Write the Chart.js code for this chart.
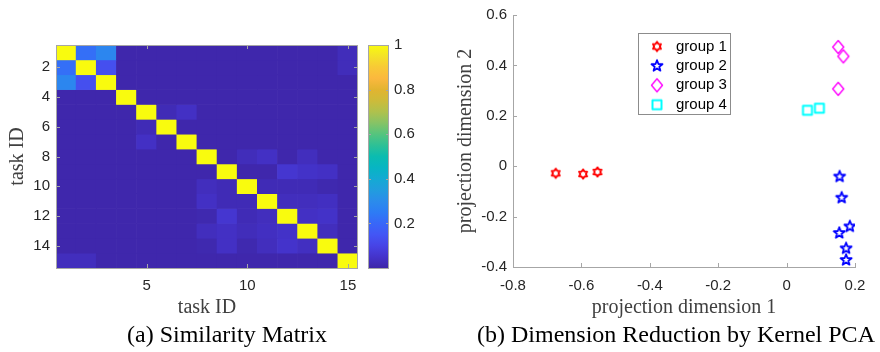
<!DOCTYPE html>
<html>
<head>
<meta charset="utf-8">
<title>Similarity matrix and kernel PCA</title>
<script src="https://cdn.jsdelivr.net/npm/chart.js@4.4.1/dist/chart.umd.min.js"></script>
<style>
  html, body { margin: 0; padding: 0; background: #fff; }
  #wrap { position: relative; width: 880px; height: 352px; overflow: hidden; }
  canvas { position: absolute; top: 0; }
  #heat { left: 0; }
  #pca { left: 440px; }
  .caption {
    position: absolute; top: 318px; width: 440px; text-align: center;
    font-family: "Liberation Serif", serif; font-size: 24px; line-height: 32px;
    color: #000; white-space: nowrap;
  }
</style>
</head>
<body>
<div id="wrap">
  <canvas id="heat" width="440" height="320"></canvas>
  <canvas id="pca" width="440" height="320"></canvas>
  <div class="caption" style="left:7px">(a) Similarity Matrix</div>
  <div class="caption" style="left:456px">(b) Dimension Reduction by Kernel PCA</div>
</div>
<script>
// données du panneau (a) : matrice de similarité entre tâches
const TASKS = ['1', '2', '3', '4', '5', '6', '7', '8', '9', '10', '11', '12', '13', '14', '15'];
const HEAT_X_TICKS = ['5', '10', '15'];
const HEAT_Y_TICKS = [2, 4, 6, 8, 10, 12, 14];
const COLORBAR_TICKS = [0.2, 0.4, 0.6, 0.8, 1];

const SIMILARITY = [
  [1, .22, .28, .005, .005, .005, .005, .005, .005, .005, .005, .005, .005, .005, .025],
  [.22, 1, .13, .005, .005, .005, .005, .005, .005, .005, .005, .005, .005, .005, .025],
  [.28, .13, 1, .005, .005, .005, .005, .005, .005, .005, .005, .005, .005, .005, .005],
  [.005, .005, .005, 1, .005, .005, .005, .005, .005, .005, .005, .005, .005, .005, .005],
  [.005, .005, .005, .005, 1, .02, .04, .005, .005, .005, .005, .005, .005, .005, .005],
  [.005, .005, .005, .005, .02, 1, .005, .005, .005, .005, .005, .005, .005, .005, .005],
  [.005, .005, .005, .005, .04, .005, 1, .005, .005, .005, .005, .005, .005, .005, .005],
  [.005, .005, .005, .005, .005, .005, .005, 1, .005, .025, .04, .005, .03, .005, .005],
  [.005, .005, .005, .005, .005, .005, .005, .005, 1, .005, .005, .06, .045, .04, .005],
  [.005, .005, .005, .005, .005, .005, .005, .03, .02, 1, .02, .02, .02, .01, .005],
  [.005, .005, .005, .005, .005, .005, .005, .04, .02, .02, 1, .03, .03, .035, .005],
  [.005, .005, .005, .005, .005, .005, .005, .01, .06, .02, .03, 1, .04, .045, .005],
  [.005, .005, .005, .005, .005, .005, .005, .03, .04, .025, .035, .045, 1, .03, .005],
  [.005, .005, .005, .005, .005, .005, .005, .01, .04, .01, .03, .05, .035, 1, .005],
  [.03, .03, .005, .005, .005, .005, .005, .005, .005, .005, .005, .005, .005, .005, 1]
];

// données du panneau (b) : projection kernel PCA
const GROUP_LABELS = ['group 1', 'group 2', 'group 3', 'group 4'];
const G1_X = [-0.675, -0.595, -0.553];
const G1_Y = [-0.028, -0.031, -0.023];
const G2_X = [0.155, 0.161, 0.185, 0.154, 0.174, 0.174];
const G2_Y = [-0.041, -0.125, -0.239, -0.265, -0.326, -0.372];
const G3_X = [0.151, 0.166, 0.151];
const G3_Y = [0.473, 0.436, 0.307];
const G4_X = [0.061, 0.096];
const G4_Y = [0.222, 0.230];

// palette parula approximative (style, pas des données)
const PARULA = [
  [0.00, [62, 38, 168]], [0.05, [68, 51, 203]], [0.10, [71, 68, 230]], [0.15, [67, 86, 245]],
  [0.20, [56, 103, 248]], [0.25, [45, 124, 245]], [0.30, [43, 140, 235]], [0.35, [33, 157, 222]],
  [0.40, [20, 170, 211]], [0.45, [7, 181, 195]], [0.50, [11, 188, 176]], [0.55, [45, 192, 150]],
  [0.60, [85, 196, 126]], [0.65, [134, 195, 102]], [0.70, [175, 193, 77]], [0.75, [205, 187, 58]],
  [0.80, [226, 180, 48]], [0.85, [251, 184, 62]], [0.90, [248, 201, 54]], [0.95, [244, 226, 40]],
  [1.00, [249, 251, 14]]
];

function parula(v) {
  for (let i = 1; i < PARULA.length; i++) {
    const [t1, c1] = PARULA[i];
    const [t0, c0] = PARULA[i - 1];
    if (v <= t1) {
      const k = (v - t0) / (t1 - t0);
      const c = c0.map((a, j) => Math.round(a + (c1[j] - a) * k));
      return `rgb(${c[0]},${c[1]},${c[2]})`;
    }
  }
  return 'rgb(249,251,14)';
}

const TICK_FONT = { family: '"Liberation Sans", Arial, sans-serif', size: 15 };
const LABEL_FONT = { family: '"Liberation Serif", serif', size: 20 };
const TICK_COLOR = '#262626';
const LABEL_COLOR = '#404040';
const AXIS_GRAY = '#a6a6a6';

// petits traits de graduation vers l'intérieur, façon MATLAB
function innerTicks(ctx, scale, sides, len) {
  ctx.save();
  ctx.strokeStyle = AXIS_GRAY;
  ctx.lineWidth = 1;
  ctx.beginPath();
  scale.ticks.forEach(t => {
    if (scale.type === 'category' && !HEAT_X_TICKS.includes(TASKS[t.value])) return;
    const p = Math.round(scale.getPixelForValue(t.value)) + 0.5;
    sides.forEach(s => {
      if (s.dir === 'x') { ctx.moveTo(p, s.at); ctx.lineTo(p, s.at + s.sign * len); }
      else { ctx.moveTo(s.at, p); ctx.lineTo(s.at + s.sign * len, p); }
    });
  });
  ctx.stroke();
  ctx.restore();
}

// barre de couleur + cadre de la matrice
const heatFrame = {
  id: 'heatFrame',
  afterDraw(chart) {
    const { ctx, chartArea: a, scales } = chart;
    const cbLeft = a.right + 10, cbRight = a.right + 31;
    const grad = ctx.createLinearGradient(0, a.bottom, 0, a.top);
    PARULA.forEach(([t]) => grad.addColorStop(t, parula(t)));
    ctx.save();
    ctx.fillStyle = grad;
    ctx.fillRect(cbLeft, a.top, cbRight - cbLeft, a.bottom - a.top);
    ctx.strokeStyle = AXIS_GRAY;
    ctx.lineWidth = 1;
    ctx.strokeRect(cbLeft + 0.5, a.top + 0.5, cbRight - cbLeft - 1, a.bottom - a.top);
    ctx.strokeRect(a.left + 0.5, a.top + 0.5, a.right - a.left - 1, a.bottom - a.top);
    ctx.restore();
    innerTicks(ctx, scales.x, [{ dir: 'x', at: a.bottom, sign: -1 }, { dir: 'x', at: a.top, sign: 1 }], 4);
    innerTicks(ctx, scales.y, [{ dir: 'y', at: a.left, sign: 1 }, { dir: 'y', at: a.right, sign: -1 }], 4);
    innerTicks(ctx, scales.cbar, [{ dir: 'y', at: cbLeft, sign: 1 }, { dir: 'y', at: cbRight, sign: -1 }], 3);
  }
};

const heatDatasets = SIMILARITY.map((row, i) => ({
  label: 'task ' + TASKS[i],
  data: row.map(() => [i + 0.5, i + 1.5]),
  backgroundColor: row.map(parula),
  borderWidth: 0,
  barPercentage: 1,
  categoryPercentage: 1
}));

new Chart(document.getElementById('heat'), {
  type: 'bar',
  data: { labels: TASKS, datasets: heatDatasets },
  options: {
    responsive: false,
    animation: false,
    devicePixelRatio: 1,
    layout: { padding: { top: 9, left: 0, right: 0, bottom: 0 } },
    plugins: { legend: { display: false }, tooltip: { enabled: false } },
    scales: {
      x: {
        type: 'category',
        stacked: true,
        grid: { display: false, drawTicks: false },
        border: { display: false },
        ticks: {
          autoSkip: false, maxRotation: 0, padding: 9, color: TICK_COLOR, font: TICK_FONT,
          callback: (v, i) => HEAT_X_TICKS.includes(TASKS[i]) ? TASKS[i] : ''
        },
        title: { display: true, text: 'task ID', color: LABEL_COLOR, font: LABEL_FONT, padding: { top: 0, bottom: 0 } },
        afterFit: s => { s.height = 52; }
      },
      y: {
        type: 'linear',
        reverse: true,
        min: 0.5,
        max: 15.5,
        grid: { display: false, drawTicks: false },
        border: { display: false },
        afterBuildTicks: s => { s.ticks = HEAT_Y_TICKS.map(v => ({ value: v })); },
        ticks: { padding: 6, color: TICK_COLOR, font: TICK_FONT },
        title: { display: true, text: 'task ID', color: LABEL_COLOR, font: LABEL_FONT, padding: { top: 6, bottom: 0 } },
        afterFit: s => { s.width = 56; }
      },
      cbar: {
        type: 'linear',
        position: 'right',
        min: 0,
        max: 1,
        grid: { display: false, drawTicks: false },
        border: { display: false },
        afterBuildTicks: s => { s.ticks = COLORBAR_TICKS.map(v => ({ value: v })); },
        ticks: { padding: 36, color: TICK_COLOR, font: TICK_FONT, callback: v => String(v) },
        afterFit: s => { s.width = 82; }
      }
    }
  },
  plugins: [heatFrame]
});

// marqueurs dessinés à la main (hexagramme, pentagramme, losange, carré)
function marker(kind, color) {
  const c = document.createElement('canvas');
  c.width = 18; c.height = 18;
  const g = c.getContext('2d');
  g.strokeStyle = color;
  g.lineJoin = 'round';
  g.translate(9, 9);
  g.beginPath();
  if (kind === 'hexagram' || kind === 'pentagram') {
    const n = kind === 'hexagram' ? 6 : 5;
    const R = kind === 'hexagram' ? 4.6 : 5.8;
    const r = kind === 'hexagram' ? R * 0.62 : R * 0.42;
    g.lineWidth = kind === 'hexagram' ? 1.9 : 1.8;
    for (let k = 0; k < n * 2; k++) {
      const ang = -Math.PI / 2 + k * Math.PI / n;
      const rad = k % 2 ? r : R;
      const px = Math.cos(ang) * rad, py = Math.sin(ang) * rad;
      if (k === 0) g.moveTo(px, py); else g.lineTo(px, py);
    }
  } else if (kind === 'diamond') {
    g.lineWidth = 1.4;
    g.moveTo(0, -6.5); g.lineTo(5.5, 0); g.lineTo(0, 6.5); g.lineTo(-5.5, 0);
  } else {
    g.lineWidth = 2;
    g.rect(-4.5, -4.5, 9, 9);
  }
  g.closePath();
  g.stroke();
  return c;
}

const toPoints = (xs, ys) => xs.map((x, i) => ({ x, y: ys[i] }));

const pcaSeries = [
  { data: toPoints(G1_X, G1_Y), style: marker('hexagram', '#ff0000') },
  { data: toPoints(G2_X, G2_Y), style: marker('pentagram', '#0000ff') },
  { data: toPoints(G3_X, G3_Y), style: marker('diamond', '#ff00ff') },
  { data: toPoints(G4_X, G4_Y), style: marker('square', '#00ffff') }
];

// légende encadrée dans la zone de tracé
const boxedLegend = {
  id: 'boxedLegend',
  afterDraw(chart) {
    const ctx = chart.ctx;
    const left = 198, top = 33, w = 92, h = 81;
    ctx.save();
    ctx.fillStyle = '#fff';
    ctx.fillRect(left, top, w, h);
    ctx.strokeStyle = '#8c8c8c';
    ctx.lineWidth = 1;
    ctx.strokeRect(left + 0.5, top + 0.5, w, h);
    ctx.font = `15px ${TICK_FONT.family}`;
    ctx.textBaseline = 'middle';
    ctx.fillStyle = '#000';
    chart.data.datasets.forEach((ds, i) => {
      const y = top + 13.5 + i * 19.4;
      const img = ds.pointStyle;
      ctx.drawImage(img, 217 - img.width / 2, y - img.height / 2);
      ctx.fillText(ds.label, 236, y);
    });
    ctx.restore();
  }
};

const pcaTicks = {
  id: 'pcaTicks',
  afterDraw(chart) {
    const { ctx, chartArea: a, scales } = chart;
    innerTicks(ctx, scales.x, [{ dir: 'x', at: a.bottom, sign: -1 }], 4);
    innerTicks(ctx, scales.y, [{ dir: 'y', at: a.left, sign: 1 }], 4);
  }
};

new Chart(document.getElementById('pca'), {
  type: 'scatter',
  data: {
    datasets: pcaSeries.map((s, i) => ({
      label: GROUP_LABELS[i],
      data: s.data,
      pointStyle: s.style,
      pointRadius: 6
    }))
  },
  options: {
    responsive: false,
    animation: false,
    devicePixelRatio: 1,
    layout: { padding: { top: 10, left: 0, right: 25, bottom: 0 } },
    plugins: { legend: { display: false }, tooltip: { enabled: false } },
    scales: {
      x: {
        type: 'linear',
        min: -0.8,
        max: 0.2,
        grid: { drawOnChartArea: false, drawTicks: false },
        border: { display: true, color: AXIS_GRAY, width: 1 },
        ticks: { stepSize: 0.2, padding: 10, color: TICK_COLOR, font: TICK_FONT, maxRotation: 0 },
        title: { display: true, text: 'projection dimension 1', color: LABEL_COLOR, font: LABEL_FONT, padding: { top: 0, bottom: 0 } },
        afterFit: s => { s.height = 53; }
      },
      y: {
        type: 'linear',
        min: -0.4,
        max: 0.6,
        grid: { drawOnChartArea: false, drawTicks: false },
        border: { display: true, color: AXIS_GRAY, width: 1 },
        ticks: { stepSize: 0.2, padding: 6, color: TICK_COLOR, font: TICK_FONT },
        title: { display: true, text: 'projection dimension 2', color: LABEL_COLOR, font: LABEL_FONT, padding: { top: 14, bottom: 0 } },
        afterFit: s => { s.width = 73; }
      }
    }
  },
  plugins: [pcaTicks, boxedLegend]
});
</script>
</body>
</html>
